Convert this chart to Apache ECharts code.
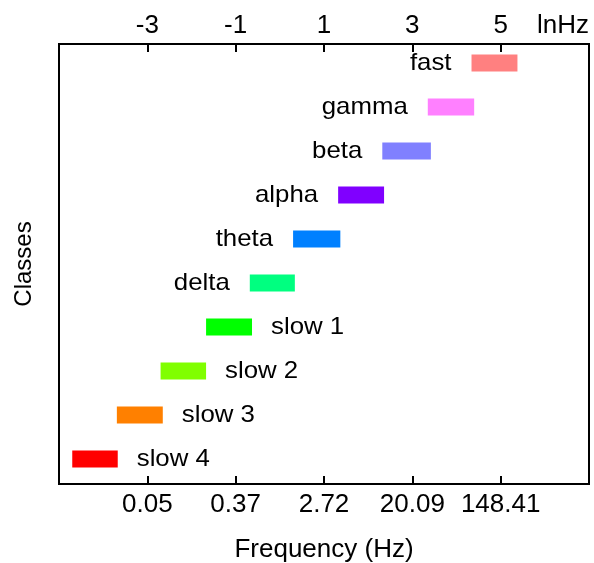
<!DOCTYPE html>
<html>
<head>
<meta charset="utf-8">
<script src="https://cdn.jsdelivr.net/npm/echarts@6/dist/echarts.min.js"></script>
<style>
  html, body { margin: 0; padding: 0; background: #fff; }
  #chart { width: 594px; height: 563px; }
</style>
</head>
<body>
<div id="chart"></div>
<script>
// Oscillation classes, from slowest to fastest, with their band limits in ln(Hz)
const classes = ['slow 4', 'slow 3', 'slow 2', 'slow 1', 'delta', 'theta', 'alpha', 'beta', 'gamma', 'fast'];
const lnStart = [-4.70, -3.69, -2.70, -1.67, -0.68, 0.30, 1.32, 2.32, 3.35, 4.34];
const lnEnd   = [-3.67, -2.65, -1.67, -0.63, 0.34, 1.37, 2.36, 3.42, 4.40, 5.38];
const classColors = ['#ff0000', '#ff8000', '#80ff00', '#00ff00', '#00ff80',
                     '#0080ff', '#8000ff', '#8080ff', '#ff80ff', '#ff8080'];

const FONT = '"Liberation Sans", Arial, sans-serif';
const FS = 24;      // class labels and vertical axis title
const FS_AX = 26;   // tick labels and horizontal axis title

const data = classes.map((name, i) => [lnStart[i], lnEnd[i], i, name]);

const chart = echarts.init(document.getElementById('chart'), null, { renderer: 'canvas' });

const axisCommon = {
  type: 'value',
  min: -5,
  max: 7,
  interval: 2,
  splitLine: { show: false },
  axisLine: { show: true, onZero: false, lineStyle: { color: '#000', width: 2 } },
  axisTick: { show: true, inside: true, length: 8, lineStyle: { color: '#000', width: 2 } }
};

chart.setOption({
  animation: false,
  backgroundColor: '#fff',
  grid: {
    left: 59, right: 5, top: 44, bottom: 79,
    show: true, borderColor: '#000', borderWidth: 2,
    containLabel: false, outerBoundsMode: 'none'
  },
  xAxis: [
    Object.assign({}, axisCommon, {
      position: 'bottom',
      name: 'Frequency (Hz)',
      nameLocation: 'middle',
      nameGap: 53,
      nameTextStyle: { fontFamily: FONT, fontSize: FS_AX, color: '#000' },
      axisLabel: {
        showMinLabel: false, showMaxLabel: false,
        margin: 8, fontFamily: FONT, fontSize: FS_AX, color: '#000',
        formatter: v => Math.exp(v).toFixed(2)
      }
    }),
    Object.assign({}, axisCommon, {
      position: 'top',
      axisLabel: {
        showMinLabel: false, showMaxLabel: false,
        margin: 5, fontFamily: FONT, fontSize: FS_AX, color: '#000',
        formatter: v => String(v)
      }
    })
  ],
  yAxis: {
    type: 'value',
    min: -0.57,
    max: 9.43,
    name: 'Classes',
    nameLocation: 'middle',
    nameRotate: 90,
    nameGap: 23,
    nameTextStyle: { fontFamily: FONT, fontSize: FS, color: '#000' },
    axisLine: { show: true, onZero: false, lineStyle: { color: '#000', width: 2 } },
    axisTick: { show: false },
    axisLabel: { show: false },
    splitLine: { show: false }
  },
  graphic: [{
    type: 'text',
    right: 5,
    top: 13,
    style: { text: 'lnHz', font: FS_AX + 'px ' + FONT, fill: '#000' }
  }],
  series: [{
    type: 'custom',
    xAxisIndex: 0,
    yAxisIndex: 0,
    data: data,
    renderItem: function (params, api) {
      const i = params.dataIndex;
      const name = classes[i];
      const p0 = api.coord([api.value(0), api.value(2)]);
      const p1 = api.coord([api.value(1), api.value(2)]);
      const h = 17;
      const labelLeft = !name.startsWith('slow');
      const ax = labelLeft ? p0[0] - 20 : p1[0] + 19;
      return {
        type: 'group',
        children: [
          {
            type: 'rect',
            shape: { x: p0[0], y: p0[1] - h / 2, width: p1[0] - p0[0], height: h },
            style: { fill: classColors[i] }
          },
          {
            type: 'text',
            x: ax,
            y: p0[1],
            scaleX: 1.075,
            style: {
              text: name,
              x: 0,
              y: 0,
              align: labelLeft ? 'right' : 'left',
              verticalAlign: 'middle',
              font: FS + 'px ' + FONT,
              fill: '#000'
            }
          }
        ]
      };
    }
  }]
});
</script>
</body>
</html>
